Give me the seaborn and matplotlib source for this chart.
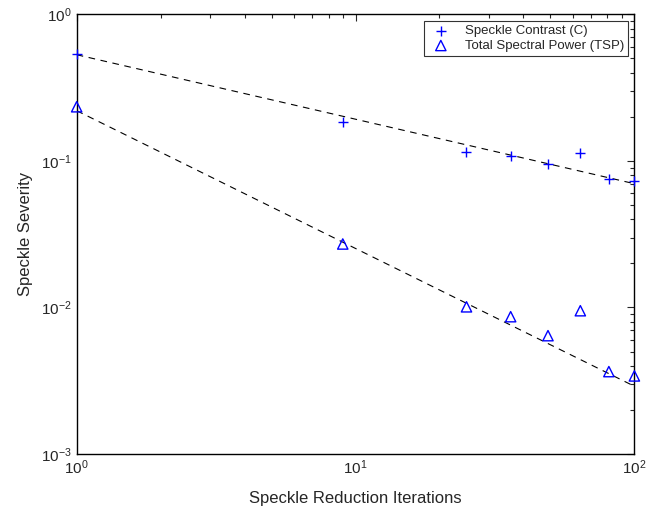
import numpy as np
import matplotlib
matplotlib.use("Agg")
import matplotlib.pyplot as plt
import seaborn as sns

# ---- data ----
iterations = [1, 9, 25, 36, 49, 64, 81, 100]
contrast = [0.536, 0.183, 0.1155, 0.1085, 0.0948, 0.1127, 0.0752, 0.0729]
tsp = [0.234, 0.0271, 0.0101, 0.00865, 0.00642, 0.0095, 0.00365, 0.00341]

# power-law fit lines y = a * x^b
fit_contrast = (0.53, -0.44)
fit_tsp = (0.22, -0.94)

sns.set_style("white")
plt.rcParams["font.family"] = ["Liberation Sans", "DejaVu Sans"]
plt.rcParams["mathtext.default"] = "regular"

fig = plt.figure(figsize=(6.47, 5.11), dpi=100)
ax = fig.add_axes([0.1185, 0.1115, 0.862, 0.8605])

xfit = np.geomspace(1, 100, 200)
sns.lineplot(x=xfit, y=fit_contrast[0] * xfit ** fit_contrast[1], ax=ax,
             color="black", linestyle=(0, (6, 5)), linewidth=0.8, legend=False)
sns.lineplot(x=xfit, y=fit_tsp[0] * xfit ** fit_tsp[1], ax=ax,
             color="black", linestyle=(0, (6, 5)), linewidth=0.8, legend=False)

sns.scatterplot(x=iterations, y=contrast, ax=ax, marker="+", color="blue",
                s=60, linewidth=1.0, label="Speckle Contrast (C)", zorder=3,
                clip_on=False)
sns.scatterplot(x=iterations, y=tsp, ax=ax, marker="^", facecolor="none",
                edgecolor="blue", s=55, linewidth=1.0,
                label="Total Spectral Power (TSP)", zorder=3, clip_on=False)

ax.set_xscale("log")
ax.set_yscale("log")
ax.set_xlim(1, 100)
ax.set_ylim(1e-3, 1)

ax.tick_params(which="both", direction="in", top=True, right=True,
               labelsize=11, width=0.8)
ax.tick_params(which="major", length=5)
ax.tick_params(which="minor", length=3)
for sp in ax.spines.values():
    sp.set_linewidth(1.0)
    sp.set_color("black")

ax.set_xlabel("Speckle Reduction Iterations", fontsize=12, labelpad=10)
ax.set_ylabel("Speckle Severity", fontsize=12, labelpad=6)

leg = ax.legend(loc="upper right", fontsize=9.5, frameon=True, fancybox=False,
                edgecolor="black", borderpad=0.3, handletextpad=0.8,
                labelspacing=0.2, borderaxespad=0.5)
leg.get_frame().set_linewidth(0.8)

fig.savefig("out.png", dpi=100)
